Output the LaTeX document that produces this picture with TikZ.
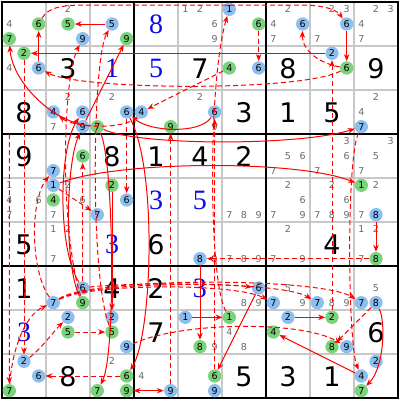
\documentclass[tikz,border=0pt]{standalone}
\usepackage{fontspec}
\setmainfont{DejaVu Sans}
\newfontfamily\givenfont{DejaVu Sans}
\newfontfamily\solvedfont{Liberation Serif}
\usetikzlibrary{arrows.meta}
\definecolor{bluefill}{RGB}{140,190,240}
\definecolor{greenfill}{RGB}{122,210,122}
\definecolor{candgray}{RGB}{105,105,105}
\definecolor{gridgray}{RGB}{200,200,200}
\definecolor{solvedblue}{RGB}{10,10,235}
\definecolor{linkred}{RGB}{255,0,0}
\tikzset{
  cgray/.style={inner sep=0pt, text=candgray, font=\fontsize{9.5}{10}\selectfont},
  cblue/.style={circle, fill=bluefill, minimum size=13.3pt, inner sep=0pt, text=black, font=\fontsize{9.5}{10}\selectfont},
  cgreen/.style={circle, fill=greenfill, minimum size=13.3pt, inner sep=0pt, text=black, font=\fontsize{9.5}{10}\selectfont},
  given/.style={inner sep=0pt, text=black, font=\givenfont\fontsize{27}{28}\selectfont},
  solved/.style={inner sep=0pt, text=solvedblue, font=\solvedfont\fontsize{28}{29}\selectfont},
  strong/.style={draw=linkred, line width=1pt, -{Stealth[length=7pt,width=5.5pt]}},
  weak/.style={strong, dash pattern=on 5pt off 3pt},
  thingrid/.style={draw=gridgray, line width=1.3pt},
  thickgrid/.style={draw=black, line width=2pt}
}
\newcommand\candN[3]{\node[cgray] (n#1#2#3) at ({2+44*(#2-1)+7.333+14.667*mod(#3-1,3)},{2+44*(#1-1)+7.333+14.667*floor((#3-1)/3)}) {#3};}
\newcommand\candB[3]{\node[cblue] (n#1#2#3) at ({2+44*(#2-1)+7.333+14.667*mod(#3-1,3)},{2+44*(#1-1)+7.333+14.667*floor((#3-1)/3)}) {#3};}
\newcommand\candG[3]{\node[cgreen] (n#1#2#3) at ({2+44*(#2-1)+7.333+14.667*mod(#3-1,3)},{2+44*(#1-1)+7.333+14.667*floor((#3-1)/3)}) {#3};}
\newcommand\gvn[3]{\node[given] (g#1#2) at ({2+44*(#2-1)+22},{2+44*(#1-1)+22.5}) {#3};}
\newcommand\slv[3]{\node[solved] (g#1#2) at ({2+44*(#2-1)+22},{2+44*(#1-1)+22.5}) {#3};}
\begin{document}
\begin{tikzpicture}[x=1pt,y=-1pt]
\useasboundingbox (0,0) rectangle (400,400);
\fill[white] (0,0) rectangle (400,400);
% grid
\foreach \i in {1,2,4,5,7,8} {
  \draw[thingrid] ({2+44*\i},2) -- ({2+44*\i},398);
  \draw[thingrid] (2,{2+44*\i}) -- (398,{2+44*\i});
}
\foreach \i in {0,3,6,9} {
  \draw[thickgrid] ({2+44*\i},1) -- ({2+44*\i},399);
  \draw[thickgrid] (1,{2+44*\i}) -- (399,{2+44*\i});
}
% givens (black) and solved (blue)
\slv{1}{4}{8}
\gvn{2}{2}{3} \slv{2}{3}{1} \slv{2}{4}{5} \gvn{2}{5}{7} \gvn{2}{7}{8} \gvn{2}{9}{9}
\gvn{3}{1}{8} \gvn{3}{6}{3} \gvn{3}{7}{1} \gvn{3}{8}{5}
\gvn{4}{1}{9} \gvn{4}{3}{8} \gvn{4}{4}{1} \gvn{4}{5}{4} \gvn{4}{6}{2}
\slv{5}{4}{3} \slv{5}{5}{5}
\gvn{6}{1}{5} \slv{6}{3}{3} \gvn{6}{4}{6} \gvn{6}{8}{4}
\gvn{7}{1}{1} \gvn{7}{3}{4} \gvn{7}{4}{2} \slv{7}{5}{3}
\slv{8}{1}{3} \gvn{8}{4}{7} \gvn{8}{9}{6}
\gvn{9}{2}{8} \gvn{9}{6}{5} \gvn{9}{7}{3} \gvn{9}{8}{1}
% row 1
\candN{1}{1}{4} \candG{1}{1}{6} \candG{1}{1}{7}
\candN{1}{2}{2} \candG{1}{2}{5} \candB{1}{2}{9}
\candB{1}{3}{5} \candG{1}{3}{9}
\candN{1}{5}{1} \candN{1}{5}{2} \candN{1}{5}{6} \candN{1}{5}{9}
\candB{1}{6}{1} \candG{1}{6}{6}
\candN{1}{7}{2} \candN{1}{7}{4} \candB{1}{7}{6} \candN{1}{7}{7}
\candN{1}{8}{2} \candN{1}{8}{3} \candB{1}{8}{6} \candN{1}{8}{7}
\candN{1}{9}{2} \candN{1}{9}{3} \candN{1}{9}{4} \candN{1}{9}{7}
% row 2
\candG{2}{1}{2} \candN{2}{1}{4} \candB{2}{1}{6}
\candG{2}{6}{4} \candB{2}{6}{6}
\candB{2}{8}{2} \candG{2}{8}{6}
% row 3
\candN{3}{2}{2} \candB{3}{2}{4} \candB{3}{2}{6} \candN{3}{2}{7} \candB{3}{2}{9}
\candN{3}{3}{2} \candB{3}{3}{6} \candG{3}{3}{7}
\candB{3}{4}{4} \candG{3}{4}{9}
\candN{3}{5}{2} \candB{3}{5}{6} \candN{3}{5}{9}
\candN{3}{9}{2} \candN{3}{9}{4} \candB{3}{9}{7}
% row 4
\candG{4}{2}{6} \candB{4}{2}{7}
\candN{4}{7}{5} \candN{4}{7}{6} \candN{4}{7}{7}
\candN{4}{8}{3} \candN{4}{8}{6} \candN{4}{8}{7}
\candN{4}{9}{3} \candN{4}{9}{5} \candN{4}{9}{7}
% row 5
\candN{5}{1}{1} \candN{5}{1}{4} \candN{5}{1}{6} \candN{5}{1}{7}
\candB{5}{2}{1} \candN{5}{2}{2} \candG{5}{2}{4} \candN{5}{2}{6} \candN{5}{2}{7}
\candG{5}{3}{2} \candB{5}{3}{6} \candB{5}{3}{7}
\candN{5}{6}{7} \candN{5}{6}{8} \candN{5}{6}{9}
\candN{5}{7}{2} \candN{5}{7}{6} \candN{5}{7}{7} \candN{5}{7}{9}
\candN{5}{8}{2} \candN{5}{8}{6} \candN{5}{8}{7} \candN{5}{8}{8} \candN{5}{8}{9}
\candG{5}{9}{1} \candN{5}{9}{2} \candN{5}{9}{7} \candB{5}{9}{8}
% row 6
\candN{6}{2}{1} \candN{6}{2}{2} \candN{6}{2}{7}
\candB{6}{5}{8} \candN{6}{5}{9}
\candN{6}{6}{7} \candN{6}{6}{8} \candN{6}{6}{9}
\candN{6}{7}{2} \candN{6}{7}{7} \candN{6}{7}{9}
\candN{6}{9}{1} \candN{6}{9}{2} \candN{6}{9}{7} \candG{6}{9}{8}
% row 7
\candB{7}{2}{6} \candB{7}{2}{7} \candG{7}{2}{9}
\candB{7}{6}{6} \candN{7}{6}{8} \candN{7}{6}{9}
\candN{7}{7}{5} \candB{7}{7}{7} \candN{7}{7}{9}
\candB{7}{8}{7} \candN{7}{8}{8} \candN{7}{8}{9}
\candN{7}{9}{5} \candB{7}{9}{7} \candB{7}{9}{8}
% row 8
\candB{8}{2}{2} \candG{8}{2}{5}
\candB{8}{3}{2} \candG{8}{3}{5} \candB{8}{3}{9}
\candB{8}{5}{1} \candG{8}{5}{8} \candN{8}{5}{9}
\candG{8}{6}{1} \candN{8}{6}{4} \candN{8}{6}{8}
\candB{8}{7}{2} \candG{8}{7}{4}
\candG{8}{8}{2} \candG{8}{8}{8} \candB{8}{8}{9}
% row 9
\candB{9}{1}{2} \candB{9}{1}{6} \candG{9}{1}{7}
\candN{9}{3}{2} \candG{9}{3}{6} \candG{9}{3}{7} \candG{9}{3}{9}
\candN{9}{4}{4} \candB{9}{4}{9}
\candG{9}{5}{6} \candB{9}{5}{9}
\candB{9}{9}{2} \candB{9}{9}{4} \candG{9}{9}{7}
\coordinate (c15) at (9.3,134);
% strong links
\draw[strong] (n135) -- (n125);
\draw[strong] (n282) -- (n212);
\draw[strong] (n216) -- (n116);
\draw[strong] (n186) -- (n286);
\draw[strong] (n356) .. controls (200,134) and (150,132) .. (n336);
\draw[strong] (n329) -- (n139);
\draw[strong] (n337) .. controls (50,122) and (12,80) .. (n117);
\draw[strong] (n337) .. controls (140,146) and (300,146) .. (n397);
\draw[strong] (n521) .. controls (120,160) and (300,160) .. (n591);
\draw[strong] (n336) .. controls (158,170) and (152,335) .. (n936);
\draw[strong] (n658) -- (n858);
\draw[strong] (n766) -- (n956);
\draw[strong] (n851) -- (n861);
\draw[strong] (n872) -- (n882);
\draw[strong] (n994) -- (n874);
\draw[strong] (n798) .. controls (386,322) and (384,368) .. (n997);
\draw[strong, {Stealth[length=7pt,width=5.5pt]}-{Stealth[length=7pt,width=5.5pt]}] (n939) -- (n949);
\draw[strong] (n337) .. controls (114,160) and (116,355) .. (n937);
\draw[strong] (n532) -- (n832);
\draw[strong] (n726) .. controls (58,250) and (58,150) .. (n326);
\draw[strong] (n729) .. controls (64,265) and (66,165) .. (n329);
\draw[strong] (n598) -- (n698);
% weak links
\draw[weak] (n116) .. controls (48,8) and (60,5) .. (85,5) -- (300,5) .. controls (322,5) and (336,9) .. (n186);
\draw[weak] (n286) .. controls (322,64) and (302,52) .. (n176);
\draw[weak] (n286) .. controls (300,92) and (80,90) .. (n216);
\draw[weak] (n166) -- (n266);
\draw[weak] (n264) -- (n344);
\draw[weak] (n861) .. controls (208,280) and (208,80) .. (n161);
\draw[weak] (n956) -- (n356);
\draw[weak] (n698) -- (n658);
\draw[weak] (n882) -- (n282);
\draw[weak] (n336) -- (n536);
\draw[weak] (n726) -- (n426);
\draw[weak] (n729) .. controls (60,230) and (62,80) .. (n129);
\draw[weak] (n835) .. controls (90,280) and (92,60) .. (n135);
\draw[weak] (n212) -- (n912);
\draw[weak] (c15) -- (n917);
\draw[weak] (n917) .. controls (12,350) and (25,315) .. (n727);
\draw[weak] (n727) .. controls (30,270) and (30,200) .. (n427);
\draw[weak] (n912) .. controls (40,350) and (55,330) .. (n822);
\draw[weak] (n825) -- (n835);
\draw[weak] (n936) -- (n916);
\draw[weak] (n521) -- (n537);
\draw[weak] (n344) .. controls (125,130) and (75,128) .. (n324);
\draw[weak] (n727) .. controls (90,283) and (235,283) .. (n777);
\draw[weak] (n727) .. controls (90,280) and (280,280) .. (n787);
\draw[weak] (n727) .. controls (90,277) and (320,277) .. (n797);
\draw[weak] (n726) .. controls (120,283) and (220,283) .. (n766);
\draw[weak] (n839) .. controls (180,322) and (300,320) .. (n889);
\draw[weak] (n798) -- (n888);
\draw[weak] (n397) .. controls (346,160) and (348,345) .. (n994);
\draw[weak] (n949) -- (n349);
\end{tikzpicture}
\end{document}
